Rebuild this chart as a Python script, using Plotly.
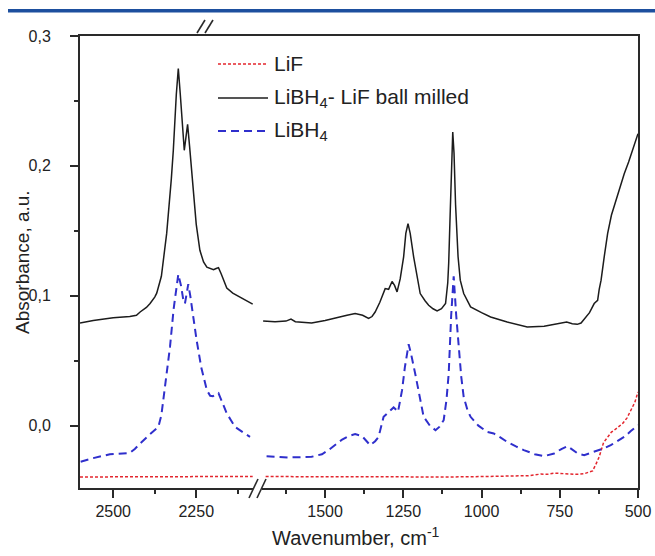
import plotly.graph_objects as go

# ---------------- data ----------------
# LiBH4 - LiF ball milled (black), high-wavenumber segment
black_hi_wn = [2600, 2560, 2500, 2450, 2430, 2419, 2400, 2389, 2375, 2369, 2355, 2339, 2325, 2319,
               2310, 2304, 2298, 2290, 2286, 2281, 2276, 2270, 2259, 2250, 2239, 2228, 2218, 2198,
               2190, 2183, 2175, 2168, 2158, 2140, 2118, 2100, 2080]
black_hi_ab = [0.079, 0.081, 0.083, 0.084, 0.085, 0.0875, 0.091, 0.094, 0.099, 0.102, 0.115, 0.148,
               0.190, 0.212, 0.255, 0.275, 0.255, 0.222, 0.212, 0.222, 0.232, 0.215, 0.179, 0.155,
               0.135, 0.126, 0.122, 0.120, 0.121, 0.1217, 0.117, 0.112, 0.106, 0.102, 0.099, 0.096,
               0.0935]
# black, low-wavenumber segment
black_lo_wn = [1698, 1660, 1625, 1609, 1595, 1543, 1500, 1468, 1430, 1404, 1380, 1361, 1350, 1340,
               1325, 1308, 1297, 1286, 1278, 1270, 1260, 1249, 1242, 1235, 1228, 1217, 1205, 1196,
               1180, 1169, 1155, 1142, 1128, 1115, 1108, 1105, 1100, 1095, 1092, 1088, 1083, 1075,
               1068, 1057, 1035, 1000, 971, 918, 854, 800, 768, 740, 728, 710, 694, 682, 672, 655,
               640, 629, 624, 618, 608, 597, 585, 571, 557, 544, 530, 517, 507, 500]
black_lo_ab = [0.0806, 0.080, 0.0805, 0.082, 0.080, 0.079, 0.081, 0.083, 0.085, 0.0863, 0.085,
               0.0825, 0.084, 0.0875, 0.095, 0.1055, 0.105, 0.111, 0.108, 0.103, 0.113, 0.130,
               0.148, 0.1555, 0.148, 0.130, 0.112, 0.1017, 0.096, 0.0927, 0.090, 0.0883, 0.090,
               0.094, 0.110, 0.125, 0.165, 0.210, 0.226, 0.210, 0.170, 0.130, 0.112, 0.1017,
               0.0914, 0.087, 0.0837, 0.0798, 0.076, 0.0765, 0.078, 0.0795, 0.0798, 0.0785, 0.078,
               0.079, 0.0817, 0.087, 0.094, 0.0965, 0.105, 0.112, 0.130, 0.148, 0.162, 0.1735,
               0.184, 0.194, 0.203, 0.212, 0.219, 0.2248]

# LiBH4 (blue dashed)
blue_hi_wn = [2598, 2560, 2510, 2450, 2435, 2419, 2389, 2364, 2355, 2349, 2340, 2329, 2318, 2310,
              2304, 2296, 2289, 2284, 2279, 2274, 2268, 2260, 2249, 2235, 2218, 2208, 2200, 2190,
              2183, 2170, 2158, 2145, 2133, 2110, 2088]
blue_hi_ab = [-0.0278, -0.025, -0.022, -0.021, -0.018, -0.0137, -0.0065, -0.001, 0.008, 0.0196,
              0.040, 0.0606, 0.090, 0.108, 0.1165, 0.108, 0.097, 0.094, 0.103, 0.109, 0.100, 0.085,
              0.066, 0.045, 0.0273, 0.023, 0.0227, 0.024, 0.025, 0.017, 0.0094, 0.004, -0.001,
              -0.005, -0.0086]
blue_lo_wn = [1687, 1618, 1543, 1510, 1489, 1468, 1447, 1425, 1404, 1382, 1370, 1356, 1340, 1329,
              1313, 1297, 1281, 1272, 1267, 1254, 1245, 1233, 1225, 1212, 1198, 1185, 1165, 1147,
              1135, 1121, 1112, 1105, 1097, 1089, 1081, 1073, 1065, 1057, 1045, 1035, 1010, 982,
              961, 940, 918, 890, 865, 830, 800, 768, 745, 725, 708, 693, 672, 650, 629, 610, 587,
              565, 544, 522, 500]
blue_lo_ab = [-0.0235, -0.0245, -0.024, -0.022, -0.0188, -0.015, -0.011, -0.008, -0.0065, -0.008,
              -0.011, -0.015, -0.012, -0.0086, 0.0068, 0.0106, 0.014, 0.012, 0.0106, 0.0273, 0.045,
              0.0627, 0.055, 0.040, 0.022, 0.0068, 0.000, -0.0035, -0.001, 0.0042, 0.020, 0.040,
              0.085, 0.115, 0.085, 0.0606, 0.038, 0.022, 0.012, 0.0068, 0.000, -0.0048, -0.006,
              -0.009, -0.0125, -0.016, -0.0188, -0.022, -0.0235, -0.0214, -0.018, -0.0158, -0.019,
              -0.0214, -0.0227, -0.021, -0.0194, -0.0175, -0.015, -0.012, -0.0086, -0.004, 0.0004]

# LiF (red dotted)
red_hi_wn = [2600, 2550, 2500, 2450, 2400, 2350, 2300, 2250, 2200, 2150, 2100, 2080]
red_hi_ab = [-0.0395, -0.0395, -0.0394, -0.0394, -0.0393, -0.0393, -0.0392, -0.0392, -0.0392,
             -0.0391, -0.0391, -0.0391]
red_lo_wn = [1690, 1600, 1500, 1400, 1300, 1200, 1100, 1000, 900, 850, 811, 790, 768, 745, 725,
             700, 672, 655, 645, 635, 624, 610, 597, 585, 576, 560, 549, 535, 522, 510, 500]
red_lo_ab = [-0.0392, -0.0393, -0.0395, -0.0396, -0.0397, -0.0396, -0.0395, -0.0392, -0.039,
             -0.0385, -0.0373, -0.0375, -0.0365, -0.037, -0.0373, -0.0375, -0.037, -0.0358,
             -0.0348, -0.030, -0.024, -0.013, -0.0086, -0.005, -0.0035, -0.0005, 0.0017, 0.006,
             0.012, 0.018, 0.026]

series_names = ["LiF", "LiBH<sub>4</sub>- LiF ball milled", "LiBH<sub>4</sub>"]

x_hi_ticks = [2500, 2250]
x_hi_minor = [2375, 2125]
x_lo_ticks = [1500, 1250, 1000, 750, 500]
x_lo_minor = [1625, 1375, 1125, 875, 625]
y_ticks = [0.0, 0.1, 0.2, 0.3]
y_minor = [0.05, 0.15, 0.25]

# ---------------- styling ----------------
FONT = "Liberation Sans, Arial, sans-serif"
RED = "#e3262e"
BLACK = "#1c1c1c"
BLUE = "#2f2fcc"
AX = "#2a2a2a"

W, H = 655, 556
ML, MR, MT, MB = 80, 17, 36, 68
PW, PH = W - ML - MR, H - MT - MB
SPLIT = (260 - ML) / PW


def px(x):
    return (x - ML) / PW


def py(y):
    return (H - MB - y) / PH


styles = {
    "red": dict(color=RED, width=1.5, dash="3px,2px"),
    "black": dict(color=BLACK, width=1.5),
    "blue": dict(color=BLUE, width=2, dash="8px,5px"),
}

fig = go.Figure()
for wn, ab, st, xa in [
    (red_hi_wn, red_hi_ab, "red", "x"), (black_hi_wn, black_hi_ab, "black", "x"),
    (blue_hi_wn, blue_hi_ab, "blue", "x"),
    (red_lo_wn, red_lo_ab, "red", "x2"), (black_lo_wn, black_lo_ab, "black", "x2"),
    (blue_lo_wn, blue_lo_ab, "blue", "x2"),
]:
    fig.add_trace(go.Scatter(x=wn, y=ab, mode="lines", line=styles[st],
                             xaxis=xa, yaxis="y" if xa == "x" else "y2",
                             showlegend=False, hoverinfo="skip"))

common_x = dict(showline=True, linecolor=AX, linewidth=2, mirror=True, ticks="outside",
                ticklen=8, tickwidth=1.5, tickcolor=AX, showgrid=False, zeroline=False,
                automargin=False,
                tickfont=dict(family=FONT, size=16, color="#222"), ticklabelstandoff=0)

fig.update_layout(
    width=W, height=H, autosize=False, margin=dict(l=ML, r=MR, t=MT, b=MB),
    paper_bgcolor="white", plot_bgcolor="white", separators=",.",
    xaxis=dict(domain=[0, SPLIT], range=[2600, 2058], tickvals=x_hi_ticks,
               minor=dict(tickvals=x_hi_minor, ticks="outside", ticklen=4, tickwidth=1.5,
                          tickcolor=AX),
               anchor="y", **common_x),
    xaxis2=dict(domain=[SPLIT, 1], range=[1708, 500], tickvals=x_lo_ticks,
                minor=dict(tickvals=x_lo_minor, ticks="outside", ticklen=4, tickwidth=1.5,
                           tickcolor=AX),
                anchor="y2", **common_x),
    yaxis=dict(range=[-0.048, 0.3], tickvals=y_ticks, tickformat=".1f", anchor="x",
               showline=True, linecolor=AX, linewidth=2, ticks="outside", ticklen=8,
               tickwidth=1.5, tickcolor=AX, showgrid=False, zeroline=False, automargin=False,
               minor=dict(tickvals=y_minor, ticks="outside", ticklen=4, tickwidth=1.5,
                          tickcolor=AX),
               tickfont=dict(family=FONT, size=16, color="#222"), ticklabelstandoff=16),
    yaxis2=dict(range=[-0.048, 0.3], matches="y", anchor="x2", side="right", showline=True,
                linecolor=AX, linewidth=2, ticks="", showticklabels=False, showgrid=False,
                zeroline=False, automargin=False),
)

# axis titles
fig.add_annotation(text="Wavenumber, cm<sup>-1</sup>", xref="paper", yref="paper",
                   x=px(356), y=py(536), showarrow=False, xanchor="center", yanchor="middle",
                   font=dict(family=FONT, size=20, color="#222"))
fig.add_annotation(text="Absorbance, a.u.", xref="paper", yref="paper", textangle=-90,
                   x=px(22), y=py(262), showarrow=False, xanchor="center", yanchor="middle",
                   font=dict(family=FONT, size=19, color="#222"))

shapes = []
# blue header bar
shapes.append(dict(type="rect", xref="paper", yref="paper", x0=px(8), x1=px(655),
                   y0=py(12.5), y1=py(9), fillcolor="#1d4f9e", line=dict(width=0),
                   layer="above"))
# axis break marks (bottom)
shapes.append(dict(type="rect", xref="paper", yref="paper", x0=px(253), x1=px(262),
                   y0=py(491), y1=py(485), fillcolor="white", line=dict(width=0),
                   layer="above"))
for x0 in (249, 257):
    shapes.append(dict(type="line", xref="paper", yref="paper", x0=px(x0), y0=py(498),
                       x1=px(x0 + 9), y1=py(479), line=dict(color=AX, width=1.6),
                       layer="above"))
# axis break marks (top)
for x0 in (197, 205):
    shapes.append(dict(type="line", xref="paper", yref="paper", x0=px(x0), y0=py(33),
                       x1=px(x0 + 8), y1=py(20), line=dict(color=AX, width=1.6),
                       layer="above"))

# legend
legend_rows = [(64, styles["red"]), (98, styles["black"]), (131, styles["blue"])]
for (yy, st), name in zip(legend_rows, series_names):
    shapes.append(dict(type="line", xref="paper", yref="paper", x0=px(218), x1=px(268),
                       y0=py(yy), y1=py(yy), line=st, layer="above"))
    fig.add_annotation(text=name, xref="paper", yref="paper", x=px(272), y=py(yy),
                       showarrow=False, xanchor="left", yanchor="middle",
                       font=dict(family=FONT, size=21, color="#222"))

fig.update_layout(shapes=shapes)
fig.write_html("out.html", config={"displayModeBar": False, "responsive": False},
               post_script="document.body.style.margin='0px';document.body.style.overflow='hidden';")
